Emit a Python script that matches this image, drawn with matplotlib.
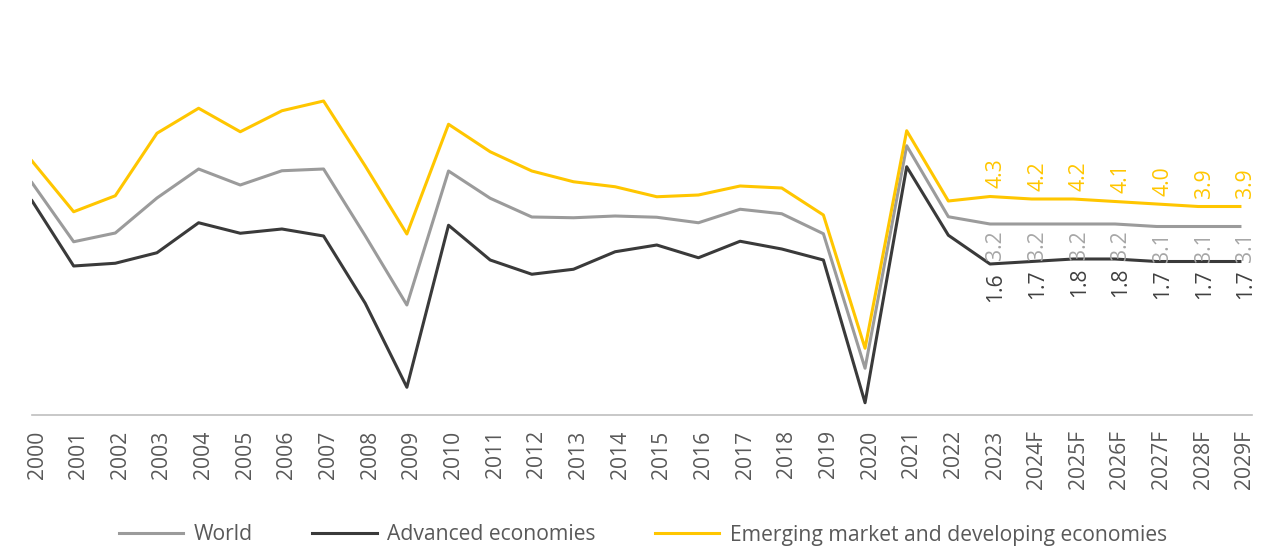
import matplotlib
matplotlib.use("Agg")
import matplotlib.pyplot as plt
import matplotlib.transforms as mtransforms

plt.rcParams['font.family'] = ['Open Sans', 'DejaVu Sans']

# 年份与数据
years = ['2000', '2001', '2002', '2003', '2004', '2005', '2006', '2007', '2008', '2009',
         '2010', '2011', '2012', '2013', '2014', '2015', '2016', '2017', '2018', '2019',
         '2020', '2021', '2022', '2023', '2024F', '2025F', '2026F', '2027F', '2028F', '2029F']

world = [4.85, 2.49, 2.84, 4.24, 5.40, 4.76, 5.33, 5.40, 2.73, -0.04,
         5.32, 4.23, 3.48, 3.45, 3.52, 3.47, 3.25, 3.79, 3.61, 2.81,
         -2.57, 6.33, 3.49, 3.2, 3.2, 3.2, 3.2, 3.1, 3.1, 3.1]

advanced = [4.13, 1.52, 1.63, 2.05, 3.25, 2.83, 3.00, 2.72, 0.03, -3.33,
            3.15, 1.76, 1.19, 1.39, 2.09, 2.36, 1.85, 2.51, 2.20, 1.76,
            -3.95, 5.49, 2.75, 1.6, 1.7, 1.8, 1.8, 1.7, 1.7, 1.7]

emerging = [5.72, 3.69, 4.33, 6.83, 7.83, 6.89, 7.73, 8.12, 5.52, 2.80,
            7.19, 6.09, 5.32, 4.89, 4.69, 4.29, 4.36, 4.72, 4.64, 3.56,
            -1.77, 6.93, 4.12, 4.3, 4.2, 4.2, 4.1, 4.0, 3.9, 3.9]

# 从2023年开始标注数值
label_start = 23

c_world = '#9b9b9b'
c_adv = '#3a3a3a'
c_em = '#ffc600'
c_text = '#595959'
fs = 15.2

fig = plt.figure(figsize=(12.71, 5.5), dpi=100)
ax = fig.add_axes([32 / 1271, 135 / 550, 1220 / 1271, 361 / 550])

x = list(range(len(years)))
ax.plot(x, world, color=c_world, lw=2.2, label='World')
ax.plot(x, advanced, color=c_adv, lw=2.2, label='Advanced economies')
ax.plot(x, emerging, color=c_em, lw=2.2, label='Emerging market and developing economies')

# 数据标签
for i in range(label_start, len(years)):
    ax.annotate(f'{emerging[i]:.1f}', (i, emerging[i]), xytext=(4.3, 6), textcoords='offset points',
                rotation=90, ha='center', va='bottom', color=c_em, fontsize=fs)
    ax.annotate(f'{world[i]:.1f}', (i, world[i]), xytext=(4.3, -4.5), textcoords='offset points',
                rotation=90, ha='center', va='top', color='#a6a6a6', fontsize=fs)
    ax.annotate(f'{advanced[i]:.1f}', (i, advanced[i]), xytext=(4.3, -6), textcoords='offset points',
                rotation=90, ha='center', va='top', color='#404040', fontsize=fs)

ax.set_xlim(0, 29.29)
ax.set_ylim(-4.44, 10)
ax.set_xticks(x)
ax.set_xticklabels(years, rotation=90, fontsize=fs, color=c_text)
ax.tick_params(axis='x', length=0, pad=11)
ax.set_yticks([])

# 刻度标签右移一点
shift = mtransforms.ScaledTranslation(5 / 100, 0, fig.dpi_scale_trans)
for lbl in ax.get_xticklabels():
    lbl.set_transform(lbl.get_transform() + shift)

for s in ['left', 'right', 'top']:
    ax.spines[s].set_visible(False)
ax.spines['bottom'].set_color('#bfbfbf')
ax.spines['bottom'].set_linewidth(1.2)

leg = fig.legend(loc='center', bbox_to_anchor=(643 / 1271, 15 / 550), ncol=3, frameon=False,
                 fontsize=fs, handlelength=3.05, handletextpad=0.5, columnspacing=2.8)
for t in leg.get_texts():
    t.set_color(c_text)

fig.savefig('out.png', dpi=100, facecolor='white')
